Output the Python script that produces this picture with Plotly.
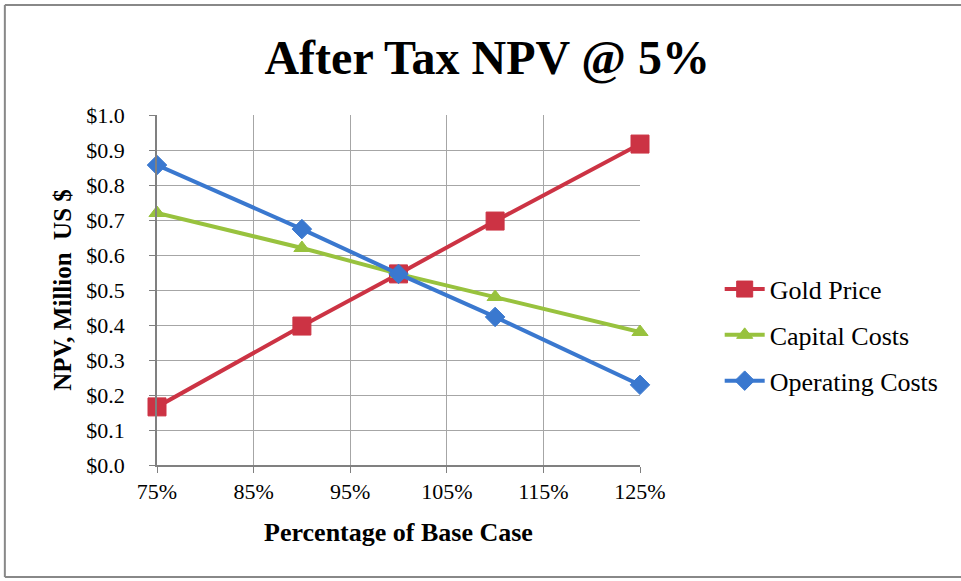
"""After Tax NPV @ 5% - wykres wrażliwości."""

import plotly.graph_objects as go

# Dane
pct_base = [75, 90, 100, 110, 125]
gold_price = [0.166, 0.397, 0.546, 0.697, 0.917]
capital_costs = [0.72, 0.62, 0.546, 0.48, 0.38]
operating_costs = [0.857, 0.674, 0.546, 0.423, 0.229]

x_ticks = [75, 85, 95, 105, 115, 125]

FONT = "Liberation Serif"

series = [
    ("Gold Price", gold_price, "#CC3344", "square", 18),
    ("Capital Costs", capital_costs, "#98C23E", "triangle-up", 14),
    ("Operating Costs", operating_costs, "#3A78CF", "diamond", 15),
]

fig = go.Figure()

for name, values, color, symbol, size in series:
    fig.add_trace(
        go.Scatter(
            x=pct_base,
            y=values,
            mode="lines+markers",
            name=name,
            legendgroup=name,
            line=dict(color=color, width=4),
            marker=dict(symbol=symbol, size=size, color=color,
                        line=dict(width=1, color=color)),
            cliponaxis=False,
        )
    )

# Ramka wokół wykresu (bez prawej krawędzi - obcięta w oryginale)
frame = dict(type="line", xref="paper", yref="paper",
             line=dict(color="#888888", width=2))
shapes = [
    dict(frame, x0=-0.315, x1=1.7, y0=1.314, y1=1.314),
    dict(frame, x0=-0.315, x1=-0.315, y0=-0.32, y1=1.314),
    dict(frame, x0=-0.315, x1=1.7, y0=-0.32, y1=-0.32),
]

fig.update_layout(
    width=961,
    height=581,
    margin=dict(l=157, r=321, t=115, b=116),
    paper_bgcolor="white",
    plot_bgcolor="white",
    font=dict(family=FONT, size=22, color="black"),
    title=dict(
        text="<b>After Tax NPV @ 5%</b>",
        x=0.507,
        xanchor="center",
        y=0.902,
        yanchor="middle",
        font=dict(family=FONT, size=48, color="black"),
    ),
    xaxis=dict(
        range=[75, 125],
        tickvals=x_ticks,
        ticktext=[f"{v}%" for v in x_ticks],
        showgrid=True,
        gridcolor="#A6A6A6",
        gridwidth=1,
        showline=True,
        linecolor="#808080",
        linewidth=1.5,
        ticks="outside",
        ticklen=6,
        tickcolor="#808080",
        zeroline=False,
        title=dict(text="<b>Percentage of Base Case</b>", standoff=20,
                   font=dict(family=FONT, size=26)),
    ),
    yaxis=dict(
        range=[0, 1.0],
        dtick=0.1,
        tickprefix="$",
        tickformat=".1f",
        showgrid=True,
        gridcolor="#A6A6A6",
        gridwidth=1,
        showline=True,
        linecolor="#808080",
        linewidth=1.5,
        ticks="outside",
        ticklen=6,
        tickcolor="#808080",
        ticklabelstandoff=20,
        zeroline=False,
        title=dict(text="<b>NPV, Million  US $</b>", standoff=8,
                   font=dict(family=FONT, size=25)),
    ),
    legend=dict(
        x=1.165,
        xanchor="left",
        y=0.371,
        yanchor="middle",
        traceorder="grouped",
        tracegroupgap=9,
        font=dict(family=FONT, size=26),
        itemwidth=40,
    ),
    shapes=shapes,
)

fig.write_html(
    "out.html",
    config={"displayModeBar": False},
    post_script="document.body.style.margin='0';",
)
